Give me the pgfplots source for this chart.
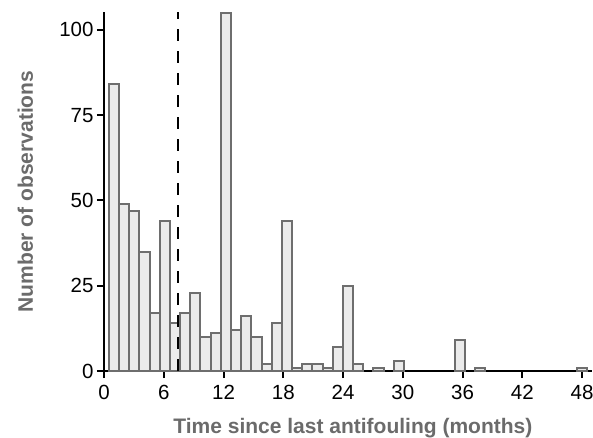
\documentclass[border=0pt]{standalone}
\usepackage{fontspec}
\setmainfont{Liberation Sans}
\usepackage{pgfplots}
\pgfplotsset{compat=1.18}
\definecolor{barfill}{HTML}{EBEBEB}
\definecolor{barline}{HTML}{6E6E6E}
\definecolor{labgray}{HTML}{6B6B6B}
\begin{document}
\begin{tikzpicture}
\path[use as bounding box] (-104pt,-67pt) rectangle (489pt,371pt);
\begin{axis}[
    at={(0pt,0pt)}, anchor=south west,
    scale only axis,
    width=488pt, height=359pt,
    xmin=0, xmax=49, ymin=0, ymax=105.2,
    axis lines=left,
    axis line style={-, black, line width=2.2pt},
    tick style={black, line width=2pt},
    tick align=outside,
    major tick length=7pt,
    xtick={0,6,...,48},
    xticklabels={0,6,12,18,24,30,36,42,48},
    ytick={0,25,50,75,100},
    yticklabels={0,25,50,75,100},
    xticklabel style={font=\fontsize{20.5}{22}\selectfont, text=black, yshift=-4pt},
    yticklabel style={font=\fontsize{20.5}{22}\selectfont, text=black},
    xlabel={Time since last antifouling (months)},
    ylabel={Number of observations},
    label style={font=\fontsize{21}{24}\selectfont\bfseries, text=labgray},
    xlabel style={at={(axis description cs:0.51,-0.1727)}, anchor=base},
    ylabel style={at={(axis description cs:-0.1455,0.5)}, anchor=base},
    clip=false,
]
% histogram, 47 bins of width 47/46 centred on 1 ... 48
\addplot[ybar, bar width=1.0217, bar shift=0pt, fill=barfill, draw=barline, line width=2pt] coordinates {
(1.000,84) (2.022,49) (3.043,47) (4.065,35) (5.087,17) (6.109,44)
(7.130,14) (8.152,17) (9.174,23) (10.196,10) (11.217,11) (12.239,105)
(13.261,12) (14.283,16) (15.304,10) (16.326,2) (17.348,14) (18.370,44)
(19.391,1) (20.413,2) (21.435,2) (22.457,1) (23.478,7) (24.500,25)
(25.522,2) (27.565,1) (29.609,3) (35.739,9) (37.783,1) (48.000,1)
};
% reference line
\addplot[black, line width=2.7pt, dash pattern=on 11.5pt off 10.5pt] coordinates {(7.44,0) (7.44,105.2)};
\end{axis}
\end{tikzpicture}
\end{document}
